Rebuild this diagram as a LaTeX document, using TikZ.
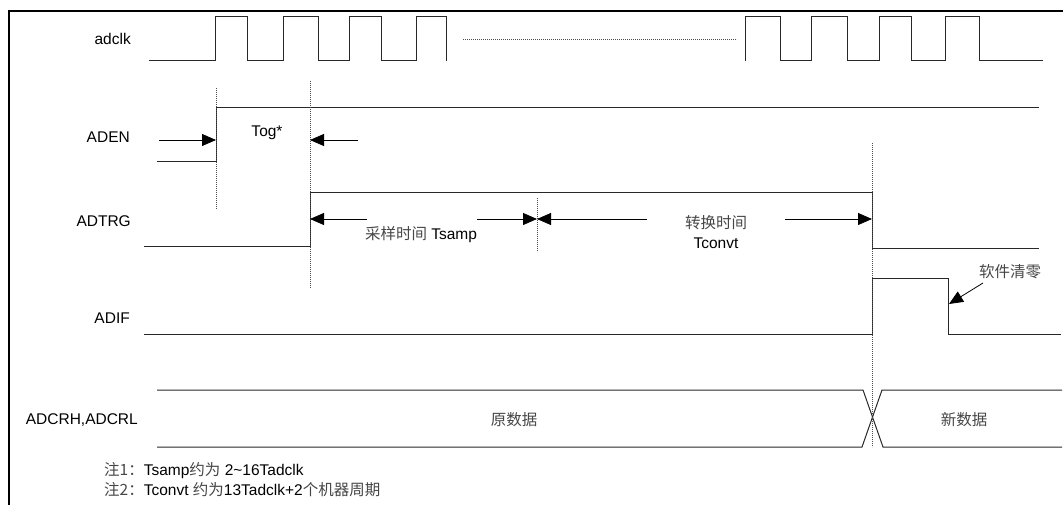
\documentclass[tikz,border=0pt]{standalone}
\usepackage{fontspec}
\setmainfont{Liberation Sans}
\newfontfamily\cjk{Noto Sans CJK SC}
\usepackage{tikz}
\usetikzlibrary{arrows.meta}
\definecolor{wavegray}{RGB}{40, 40, 40}
\definecolor{cjkgray}{RGB}{70, 70, 70}

\begin{document}
\begin{tikzpicture}[x=1pt, y=-1pt,
    wave/.style={line width=1pt, wavegray, line join=miter},
    guide/.style={line width=0.6pt, black!70, dash pattern=on 0.6pt off 1.4pt},
    dimarrow/.style={line width=0.8pt, -{Triangle[length=14pt,width=12pt]}},
    sig/.style={font=\fontsize{15.5}{18}\selectfont, inner sep=0pt, anchor=east},
    txt/.style={font=\fontsize{15.5}{18}\selectfont, inner sep=0pt}
]

\useasboundingbox (0,0) rectangle (1063,505);

% Frame (left and top edge only)
\draw[line width=2.5pt] (9,505) -- (9,11) -- (1063,11);

% Signal names
\node[sig] (nclk)  at (131,39)  {adclk};
\node[sig] (naden) at (130,137) {ADEN};
\node[sig] (ntrg)  at (131,221) {ADTRG};
\node[sig] (nif)   at (130,318) {ADIF};
\node[sig] (ndat)  at (138,420) {ADCRH,ADCRL};

% adclk
\draw[wave] (149,61) -- (215,61) -- (215,17) -- (247,17) -- (247,61) -- (283,61) -- (283,17)
    -- (318,17) -- (318,61) -- (349,61) -- (349,17) -- (381,17) -- (381,61) -- (416,61)
    -- (416,17) -- (446,17) -- (446,61);
\draw[guide] (463,39) -- (737,39);
\draw[wave] (745,61) -- (745,17) -- (780,17) -- (780,61) -- (811,61) -- (811,17) -- (847,17)
    -- (847,61) -- (879,61) -- (879,17) -- (911,17) -- (911,61) -- (945,61) -- (945,17)
    -- (979,17) -- (979,61) -- (1043,61);

% ADEN
\draw[wave] (157,162) -- (216,162) -- (216,108) -- (1039,108);

% ADTRG
\draw[wave] (144,247) -- (310,247) -- (310,193) -- (872,193) -- (872,249) -- (1039,249);

% ADIF
\draw[wave] (144,334) -- (872,334) -- (872,278) -- (948,278) -- (948,334) -- (1061,334);

% ADCRH,ADCRL bus
\draw[wave] (157,390) -- (863,390) -- (883,447) -- (1062,447);
\draw[wave] (157,447) -- (862,447) -- (882,390) -- (1062,390);

% Guide lines
\draw[guide] (216,88)  -- (216,209);
\draw[guide] (310,81)  -- (310,288);
\draw[guide] (537,198) -- (537,252);
\draw[guide] (872,143) -- (872,447);

% Tog* arrows
\coordinate (togA) at (159,140);  \coordinate (togB) at (216,140);
\coordinate (togC) at (358,140);  \coordinate (togD) at (310,140);
\draw[dimarrow] (togA) -- (togB);
\draw[dimarrow] (togC) -- (togD);
\node[txt] (ntog) at (267,133) {Tog*};

% Tsamp / Tconvt arrows
\coordinate (trgA) at (310,219);  \coordinate (trgB) at (367,219);
\coordinate (trgC) at (477,219);  \coordinate (trgD) at (537,219);
\coordinate (trgE) at (647,219);  \coordinate (trgF) at (785,219);
\coordinate (trgG) at (872,219);
\draw[dimarrow] (trgB) -- (trgA);
\draw[dimarrow] (trgC) -- (trgD);
\draw[dimarrow] (trgE) -- (trgD);
\draw[dimarrow] (trgF) -- (trgG);
\node[txt] (nsamp) at (421,235) {{\cjk\color{cjkgray}采样时间} Tsamp};
\node[txt] (nconv) at (716,223) {\cjk\color{cjkgray}转换时间};
\node[txt] (nconvt) at (716,243) {Tconvt};

% Software clear
\node[txt] (nclr) at (1010,272) {\cjk\color{cjkgray}软件清零};
\coordinate (clrA) at (983,283);  \coordinate (clrB) at (949,304);
\draw[dimarrow] (clrA) -- (clrB);

% Data
\node[txt] (nold) at (514,420) {\cjk\color{cjkgray}原数据};
\node[txt] (nnew) at (964,420) {\cjk\color{cjkgray}新数据};

% Notes
\node[txt, anchor=west] (note1) at (104,471) {{\cjk\color{cjkgray}注1：}Tsamp{\cjk\color{cjkgray}约为} 2\textasciitilde16Tadclk};
\node[txt, anchor=west] (note2) at (104,490) {{\cjk\color{cjkgray}注2：}Tconvt {\cjk\color{cjkgray}约为}13Tadclk+2{\cjk\color{cjkgray}个机器周期}};

\end{tikzpicture}
\end{document}
